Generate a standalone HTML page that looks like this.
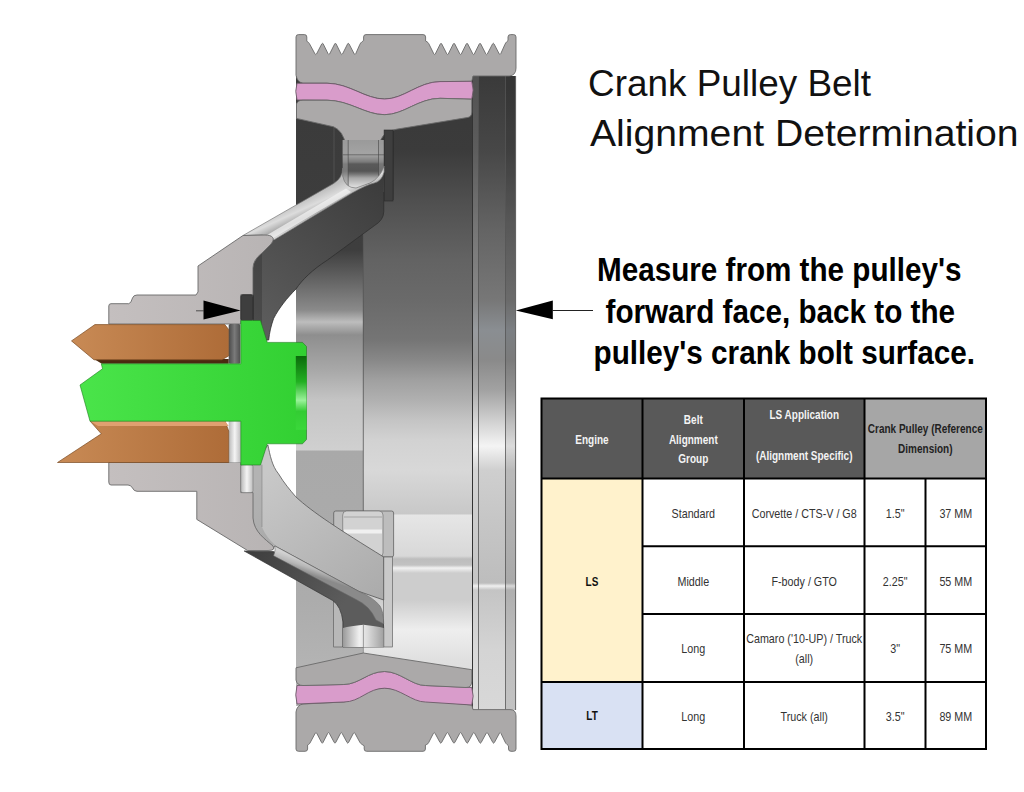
<!DOCTYPE html>
<html><head><meta charset="utf-8">
<style>
html,body{margin:0;padding:0;background:#fff;width:1024px;height:792px;overflow:hidden}
svg{display:block}
</style></head><body>
<svg width="1024" height="792" viewBox="0 0 1024 792">
<defs>
<linearGradient id="gMain" x1="0" y1="76" x2="0" y2="700" gradientUnits="userSpaceOnUse">
 <stop offset="0.0000" stop-color="#383838"/>
 <stop offset="0.1186" stop-color="#3b3b3b"/>
 <stop offset="0.1987" stop-color="#4f4f4f"/>
 <stop offset="0.2949" stop-color="#636363"/>
 <stop offset="0.3590" stop-color="#6a6a6a"/>
 <stop offset="0.4231" stop-color="#757575"/>
 <stop offset="0.4551" stop-color="#888888"/>
 <stop offset="0.4872" stop-color="#a0a0a0"/>
 <stop offset="0.5192" stop-color="#b0b0b0"/>
 <stop offset="0.5513" stop-color="#c4c4c4"/>
 <stop offset="0.5833" stop-color="#d2d2d2"/>
 <stop offset="0.6314" stop-color="#d8d8d8"/>
 <stop offset="0.7019" stop-color="#c8c8c8"/>
 <stop offset="0.7035" stop-color="#e6e6e6"/>
 <stop offset="0.7692" stop-color="#d8d8d8"/>
 <stop offset="0.7740" stop-color="#bdbdbd"/>
 <stop offset="0.7837" stop-color="#c2c2c2"/>
 <stop offset="0.7885" stop-color="#f2f2f2"/>
 <stop offset="0.7965" stop-color="#cdcdcd"/>
 <stop offset="0.8397" stop-color="#cdcdcd"/>
 <stop offset="0.8878" stop-color="#eeeeee"/>
 <stop offset="0.9359" stop-color="#e0e0e0"/>
 <stop offset="1.0000" stop-color="#d8d8d8"/>
</linearGradient>
<linearGradient id="gLeft" x1="0" y1="76" x2="0" y2="706" gradientUnits="userSpaceOnUse">
 <stop offset="0.0000" stop-color="#3a3a3a"/>
 <stop offset="0.2762" stop-color="#3e3e3e"/>
 <stop offset="0.3317" stop-color="#6a6a6a"/>
 <stop offset="0.3714" stop-color="#8a8a8a"/>
 <stop offset="0.3905" stop-color="#bdbdbd"/>
 <stop offset="0.4111" stop-color="#8e8e8e"/>
 <stop offset="0.4667" stop-color="#a8a8a8"/>
 <stop offset="0.5143" stop-color="#c4c4c4"/>
 <stop offset="0.5937" stop-color="#d0d0d0"/>
 <stop offset="0.5952" stop-color="#a9a9a9"/>
 <stop offset="0.8317" stop-color="#acacac"/>
 <stop offset="1.0000" stop-color="#b8b8b8"/>
</linearGradient>
<linearGradient id="gFl" x1="0" y1="76" x2="0" y2="710" gradientUnits="userSpaceOnUse">
 <stop offset="0.0000" stop-color="#3a3a3a"/>
 <stop offset="0.1167" stop-color="#474747"/>
 <stop offset="0.2429" stop-color="#646464"/>
 <stop offset="0.3533" stop-color="#777777"/>
 <stop offset="0.4006" stop-color="#8a8e92"/>
 <stop offset="0.4479" stop-color="#8a8a8a"/>
 <stop offset="0.4953" stop-color="#a2a2a2"/>
 <stop offset="0.5426" stop-color="#cfcfcf"/>
 <stop offset="0.5836" stop-color="#f4f4f4"/>
 <stop offset="0.6215" stop-color="#cfcfcf"/>
 <stop offset="0.7003" stop-color="#c6c6c6"/>
 <stop offset="0.7997" stop-color="#bdbdbd"/>
 <stop offset="0.8044" stop-color="#f0f0f0"/>
 <stop offset="0.8107" stop-color="#c4c4c4"/>
 <stop offset="0.9054" stop-color="#d4d4d4"/>
 <stop offset="1.0000" stop-color="#d8d8d8"/>
</linearGradient>
<linearGradient id="gCopper" x1="0" y1="0" x2="1" y2="0">
 <stop offset="0" stop-color="#c88a55"/><stop offset="1" stop-color="#ae6c38"/>
</linearGradient>
<linearGradient id="gHub" x1="108" y1="0" x2="275" y2="0" gradientUnits="userSpaceOnUse">
 <stop offset="0" stop-color="#c4bfbf"/><stop offset="1" stop-color="#b8b4b4"/>
</linearGradient>
<linearGradient id="gGreen" x1="80" y1="0" x2="306" y2="0" gradientUnits="userSpaceOnUse">
 <stop offset="0" stop-color="#4ae44a"/><stop offset="1" stop-color="#32d032"/>
</linearGradient>
<linearGradient id="gDarkFace" x1="380" y1="180" x2="270" y2="330" gradientUnits="userSpaceOnUse">
 <stop offset="0" stop-color="#3c3c3c"/><stop offset="1" stop-color="#5c5c5c"/>
</linearGradient>
<linearGradient id="gLitFace" x1="270" y1="470" x2="380" y2="620" gradientUnits="userSpaceOnUse">
 <stop offset="0" stop-color="#c8c8c8"/><stop offset="1" stop-color="#a8a8a8"/>
</linearGradient>
<linearGradient id="gStrip" x1="0" y1="0" x2="0" y2="1">
 <stop offset="0" stop-color="#c8c8c8"/><stop offset="0.5" stop-color="#efefef"/><stop offset="1" stop-color="#bdbdbd"/>
</linearGradient>
<linearGradient id="gUnder" x1="250" y1="550" x2="340" y2="610" gradientUnits="userSpaceOnUse">
 <stop offset="0" stop-color="#3e3e3e"/><stop offset="1" stop-color="#5c5c5c"/>
</linearGradient>
<linearGradient id="gGapD" x1="0" y1="0" x2="1" y2="0">
 <stop offset="0" stop-color="#4a4a4a"/><stop offset="0.5" stop-color="#7a7a7a"/><stop offset="1" stop-color="#4e4e4e"/>
</linearGradient>
<linearGradient id="gGapL" x1="0" y1="0" x2="1" y2="0">
 <stop offset="0" stop-color="#b8b8b8"/><stop offset="0.5" stop-color="#f4f4f4"/><stop offset="1" stop-color="#bcbcbc"/>
</linearGradient>
<linearGradient id="gDG" x1="0" y1="0" x2="0" y2="1">
 <stop offset="0" stop-color="#0b6a0b"/><stop offset="0.35" stop-color="#22b022"/><stop offset="0.6" stop-color="#9af29a"/><stop offset="0.75" stop-color="#33cc33"/><stop offset="1" stop-color="#3ad83a"/>
</linearGradient>
<linearGradient id="gStripU" x1="300" y1="200" x2="310" y2="222" gradientUnits="userSpaceOnUse">
 <stop offset="0" stop-color="#bdbdbd"/><stop offset="0.4" stop-color="#dcdcdc"/><stop offset="0.75" stop-color="#a8a8a8"/><stop offset="1" stop-color="#d8d8d8"/>
</linearGradient>
<linearGradient id="gNeckU" x1="0" y1="140" x2="0" y2="192" gradientUnits="userSpaceOnUse">
 <stop offset="0.0000" stop-color="#9a9a9a"/>
 <stop offset="0.2885" stop-color="#a4a4a4"/>
 <stop offset="0.4231" stop-color="#7a7a7a"/>
 <stop offset="0.4615" stop-color="#5a5a5a"/>
 <stop offset="0.5962" stop-color="#555555"/>
 <stop offset="0.6538" stop-color="#747474"/>
 <stop offset="0.7308" stop-color="#a8a8a8"/>
 <stop offset="0.8846" stop-color="#d8d8d8"/>
 <stop offset="1.0000" stop-color="#eeeeee"/>
</linearGradient>
<linearGradient id="gStripL" x1="300" y1="558" x2="296" y2="570" gradientUnits="userSpaceOnUse">
 <stop offset="0" stop-color="#d2d2d2"/><stop offset="0.5" stop-color="#b8b8b8"/><stop offset="1" stop-color="#8a8a8a"/>
</linearGradient>
<linearGradient id="gNeckL" x1="0" y1="0" x2="1" y2="0">
 <stop offset="0" stop-color="#9a9a9a"/><stop offset="0.4" stop-color="#f0f0f0"/><stop offset="0.6" stop-color="#dcdcdc"/><stop offset="1" stop-color="#a0a0a0"/>
</linearGradient>
</defs>
<rect x="296" y="76" width="176" height="630" fill="url(#gMain)"/>
<rect x="296" y="76" width="67" height="630" fill="url(#gLeft)"/>
<line x1="363.3" y1="235" x2="363.3" y2="511" stroke="#555" stroke-width="0.8"/>
<line x1="334" y1="118" x2="334" y2="200" stroke="#555" stroke-width="0.8"/>
<line x1="393" y1="128" x2="393" y2="200" stroke="#2a2a2a" stroke-width="0.8"/>
<rect x="472" y="76" width="44" height="634" fill="url(#gFl)"/>
<rect x="472" y="76" width="6" height="634" fill="#fff" opacity="0.12"/>
<rect x="505.5" y="76" width="10.5" height="634" fill="#000" opacity="0.10"/>
<line x1="472.5" y1="76" x2="472.5" y2="710" stroke="#333" stroke-width="1"/>
<line x1="478.5" y1="76" x2="478.5" y2="710" stroke="#555" stroke-width="0.8"/>
<line x1="505.5" y1="76" x2="505.5" y2="710" stroke="#555" stroke-width="0.8"/>
<line x1="515.6" y1="76" x2="515.6" y2="710" stroke="#666" stroke-width="1"/>
<path d="M296,75 L296,37 Q296,34.6 298.5,34.6 L304.5,34.6 Q306.8,34.6 306.8,37 L306.80,41.30 L307.89,41.95 Q308.80,42.50 309.31,43.43 L315.04,53.99 Q315.80,55.40 316.54,53.98 L321.76,43.92 Q322.50,42.50 323.21,43.93 L328.19,53.97 Q328.90,55.40 329.62,53.97 L334.68,43.93 Q335.40,42.50 336.11,43.93 L341.09,53.97 Q341.80,55.40 342.52,53.97 L347.58,43.93 Q348.30,42.50 349.04,43.92 L354.26,53.98 Q355.00,55.40 355.64,53.94 L359.86,44.36 Q360.50,42.90 361.77,41.92 L363.60,40.50 L363.6,37 Q363.6,34.6 366,34.6 L423,34.6 Q425.6,34.6 425.6,37 L425.60,41.00 L427.02,41.82 Q428.20,42.50 428.81,43.72 L433.89,53.97 Q434.60,55.40 435.31,53.97 L440.29,43.93 Q441.00,42.50 441.73,43.92 L446.87,53.98 Q447.60,55.40 448.31,53.97 L453.29,43.93 Q454.00,42.50 454.73,43.92 L459.87,53.98 Q460.60,55.40 461.31,53.97 L466.29,43.93 Q467.00,42.50 467.73,43.92 L472.87,53.98 Q473.60,55.40 474.31,53.97 L479.29,43.93 Q480.00,42.50 480.73,43.92 L485.87,53.98 Q486.60,55.40 487.34,53.98 L492.56,43.92 Q493.30,42.50 494.04,43.92 L499.26,53.98 Q500.00,55.40 500.65,53.94 L504.97,44.31 Q505.60,42.90 506.69,41.81 L508.00,40.50 L508,37 Q508,34.6 510.5,34.6 L513.5,34.6 Q516,34.6 516,37 L516,68 Q516,75.5 509,76 L473,76 L471.8,81.3 L440,81.6 C418,82 404,99 384.6,99 C365,99 350,83.5 327,83.2 L303,83.2 Q297,82 296,75 Z" fill="#aba9a9" stroke="#6a6a6a" stroke-width="0.9"/>
<path d="M297,83.2 L327,83.2 C350,83.5 365,99 384.6,99 C404,99 418,82 440,81.6 L471.8,81.3 Q474.5,90 471.8,99.2 L440,98.3 C418,98.5 404,114.7 384.6,114.7 C365,114.7 350,100.4 327,100.2 L297,100 Q294.5,91 297,83.2 Z" fill="#d99ccb" stroke="#6a5a66" stroke-width="0.9"/>
<path d="M296.5,104 Q297.5,100.2 303,100.2 L327,100.2 C350,100.4 365,114.7 384.6,114.7 C404,114.7 418,98.5 440,98.3 L471.8,99.2 Q471.8,100 471.8,105 L471.8,112 Q471.8,117.2 467,117.6 L396,129.3 Q381,132 379.5,145 L379.5,155 L345.5,155 L345.5,145 Q343.5,131 333.6,126.8 L296.5,118.4 Z" fill="#aba9a9" stroke="#6a6a6a" stroke-width="0.9"/>
<rect x="342.7" y="140" width="41.4" height="52" fill="url(#gNeckU)"/>
<rect x="342.7" y="140" width="5.5" height="48" fill="#9a9a9a" opacity="0.55"/>
<rect x="378.5" y="140" width="5.6" height="40" fill="#9a9a9a" opacity="0.45"/>
<line x1="348.2" y1="140" x2="348.2" y2="188" stroke="#444" stroke-width="0.6"/>
<line x1="378.5" y1="140" x2="378.5" y2="180" stroke="#444" stroke-width="0.6"/>
<line x1="342.7" y1="154.8" x2="384" y2="154.8" stroke="#444" stroke-width="0.6"/>
<rect x="384.1" y="130" width="8.9" height="71" fill="#3e3e3e" stroke="#2a2a2a" stroke-width="0.6"/>
<path d="M253,262 Q256,252 262,250 L274.4,239.7 L352.5,192.8 Q366,184 374.4,181.9 Q380,178 382.2,172.5 L383.75,172.5 L383.75,211.6 Q383.75,220 374.4,225.6 L327.5,260 C312,270 302,280 296,289 C287,298 279,308 273.6,318.5 C271,326 269.5,332 268.7,340 L253,340 Z" fill="url(#gDarkFace)" stroke="#2e2e2e" stroke-width="0.8"/>
<path d="M253,262 Q256,252 262,250 L262,330 L253,330 Z" fill="#2a2a2a" opacity="0.35"/>
<path d="M243,235.5 L333.75,183.4 Q342.7,178 342.7,168 L342.7,176 Q345,188 356,188 L370,183 Q380,178 384.1,166 L384.1,172 Q382,181 374.4,183 Q366,185 352.5,192.8 L274.4,239.7 Q268,236 262,235 Z" fill="url(#gStripU)" stroke="#777" stroke-width="0.7"/>
<path d="M262,238 L346,188.5 L351,192 L270,240 Z" fill="#f2f2f2" opacity="0.75"/>
<rect x="333.7" y="511" width="59.9" height="46" rx="2" fill="#bdbdbd" stroke="#555" stroke-width="0.7"/>
<rect x="342.7" y="511" width="40.3" height="46" rx="4" fill="#d2d2d2" stroke="#666" stroke-width="0.6"/>
<rect x="344" y="529.5" width="38" height="4" fill="#f0f0f0"/>
<line x1="344" y1="517" x2="382" y2="517" stroke="#888" stroke-width="0.6"/>
<rect x="333.7" y="600" width="9.3" height="47" fill="#b8b8b8" stroke="#555" stroke-width="0.6"/>
<rect x="383.7" y="557" width="8.9" height="90" fill="#c9c9c9" stroke="#555" stroke-width="0.6"/>
<path d="M253,464.7 L267.9,445 C270,455 272,466 278.5,473.8 C284,483 290,490 295.8,496.8 C312,512 340,530 383.7,557 L383.7,600 L358.9,591.4 L274.8,545.9 L272,550 L248,532 L248,464.7 Z" fill="url(#gLitFace)" stroke="#555" stroke-width="0.8"/>
<path d="M253,464.7 L262,464.7 L262,527 Q266,537 275,545 L271,546 C262,540 254,532 253,518 Z" fill="#000" opacity="0.10"/>
<line x1="262" y1="464.7" x2="262" y2="527" stroke="#777" stroke-width="0.5"/>
<path d="M244.2,551 L273.6,551.6 L355.5,597 Q372,603 378,610 Q383.7,615 383.7,628 L383.7,647 L343,647 L343,622 Q341,606 332.7,600.5 Z" fill="url(#gUnder)" stroke="#333" stroke-width="0.7"/>
<path d="M274.8,545.9 L358.9,591.4 Q374,598 380,606 Q383.7,612 383.7,624 L376,620 Q370,606 356,599.5 L273.6,555.8 Q276,549 274.8,545.9 Z" fill="url(#gStripL)" stroke="#666" stroke-width="0.6"/>
<path d="M343,628 Q350,626 363.4,624.8 Q376,626 383.7,628 L383.7,647 L343,647 Z" fill="url(#gNeckL)"/>
<line x1="363.4" y1="624.8" x2="363.4" y2="653" stroke="#666" stroke-width="0.6"/>
<path d="M108.8,324 L108.8,306 Q108.8,303.7 111,303.7 L128.7,303.7 Q131,303.7 132.5,298 Q133.5,295 137,295 L196,295 L198,292 L198,266 L243,235.5 L265,235 C272,235 276,238 271,244 L262,253 Q253,260 253,268 L253,294.7 L240.8,294.7 L240.8,324 Z" fill="url(#gHub)" stroke="#6a6a6a" stroke-width="0.9"/>
<rect x="240.8" y="294.7" width="12.2" height="26" rx="2" fill="#3e3e3e" stroke="#222" stroke-width="0.6"/>
<path d="M108.8,462.5 L108.8,482 Q108.8,485 111,485 L128,485 Q131,485 132.5,488 Q134,491.3 137,491.3 L196.8,491.3 L196.8,519.4 L247.6,550.5 L268,550.5 Q276,550.5 273,546 C265,539 254,532 253,518 L253,492.6 L240.8,492.6 L240.8,462.5 Z" fill="url(#gHub)" stroke="#6a6a6a" stroke-width="0.9"/>
<rect x="240.8" y="464.7" width="12.2" height="27.9" rx="2" fill="url(#gGapL)" stroke="#777" stroke-width="0.6"/>
<rect x="228.7" y="324" width="11.7" height="39.7" rx="1.5" fill="url(#gGapD)"/>
<rect x="228.7" y="421" width="12.1" height="41.5" fill="url(#gGapL)"/>
<path d="M94,359 L228.7,359 L228.7,363.8 L101.8,363.8 Z" fill="#4a2a10"/>
<path d="M94.9,324.6 L224.8,324.6 L228.7,329.5 L228.7,355.9 L221.9,359.8 L94,359.8 L71.5,340.9 Z" fill="url(#gCopper)" stroke="#7a4a22" stroke-width="0.7"/>
<path d="M90,421 L225,421 L228.7,431 L228.7,462.5 L57.5,462.5 L101.3,433.8 Z" fill="url(#gCopper)" stroke="#7a4a22" stroke-width="0.7"/>
<path d="M90,421 L225,421 L228.7,426 L98,426 Z" fill="#e0a070"/>
<path d="M101.3,363.8 L240.8,363.8 L240.8,320.5 L260.5,320.5 L267.3,342.4 L302.5,342.4 L306.5,346.5 L306.5,439.5 L302.5,443.8 L267.3,443.8 L260.5,465 L240.8,465 L240.8,421.2 L90,421.2 L80,385 L102.5,368.8 Z" fill="url(#gGreen)" stroke="#1f7a1f" stroke-width="0.6"/>
<rect x="295.8" y="356" width="10.7" height="73.8" fill="url(#gDG)"/>
<path d="M296,712 L296,749 Q296,751.3 298.5,751.3 L305,751.3 Q307.6,751.3 307.6,749 L307.60,745.00 L308.64,744.40 Q309.50,743.90 309.97,743.02 L315.24,733.21 Q316.00,731.80 316.74,733.22 L321.56,742.48 Q322.30,743.90 323.03,742.48 L327.77,733.22 Q328.50,731.80 329.26,733.21 L334.24,742.49 Q335.00,743.90 335.74,742.48 L340.56,733.22 Q341.30,731.80 342.06,733.21 L347.04,742.49 Q347.80,743.90 348.55,742.49 L353.45,733.21 Q354.20,731.80 354.96,733.21 L359.74,742.09 Q360.50,743.50 361.86,744.34 L364.20,745.80 L364.2,749 Q364.2,751.3 366.6,751.3 L423,751.3 Q425.4,751.3 425.4,749 L425.40,745.00 L426.82,744.40 Q428.00,743.90 428.59,742.76 L433.47,733.22 Q434.20,731.80 434.97,733.20 L440.03,742.50 Q440.80,743.90 441.57,742.50 L446.63,733.20 Q447.40,731.80 448.17,733.20 L453.23,742.50 Q454.00,743.90 454.77,742.50 L459.83,733.20 Q460.60,731.80 461.37,733.20 L466.43,742.50 Q467.20,743.90 467.97,742.50 L473.03,733.20 Q473.80,731.80 474.57,733.20 L479.63,742.50 Q480.40,743.90 481.17,742.50 L486.23,733.20 Q487.00,731.80 487.77,733.20 L492.83,742.50 Q493.60,743.90 494.37,742.50 L499.43,733.20 Q500.20,731.80 500.89,733.24 L505.11,742.06 Q505.80,743.50 507.02,744.54 L508.50,745.80 L508.5,749 Q508.5,751.3 511,751.3 L513.6,751.3 Q516,751.3 516,749 L516,716 Q516,709.6 510,709.6 L473,709.6 L471.8,705 L440,702 C418,702 404,688.2 384.6,688.2 C365,688.2 350,702 343.8,702 L303,704 Q297,705 296,712 Z" fill="#aba9a9" stroke="#6a6a6a" stroke-width="0.9"/>
<path d="M297,685.5 L343.8,684.5 C360,684 368,671.5 384.6,671.5 C400,671.5 412,685.5 425.4,685.5 L471.8,687.5 Q474.5,696 471.8,705 L425.4,702 C412,702 400,688.2 384.6,688.2 C368,688.2 360,702 343.8,702 L297,704 Q294.5,695 297,685.5 Z" fill="#d99ccb" stroke="#6a5a66" stroke-width="0.9"/>
<path d="M296,667.8 L363.3,653 L471.8,669.7 L471.8,681 Q471.8,687.5 466,687.5 L425.4,685.5 C412,685.5 400,671.5 384.6,671.5 C368,671.5 360,684 343.8,684.5 L303,685.5 Q297,685.5 296,680 Z" fill="#aba9a9" stroke="#6a6a6a" stroke-width="0.9"/>
<path d="M240.6,310.5 L203.5,300.5 L203.5,319.5 Z" fill="#000"/>
<line x1="196" y1="310.8" x2="204" y2="310.8" stroke="#333" stroke-width="0.8"/>
<path d="M515.8,310.5 L552.8,300.5 L552.8,319.3 Z" fill="#000"/>
<line x1="552" y1="310.5" x2="593" y2="310.5" stroke="#222" stroke-width="1"/>
<text x="588" y="95.5" font-family='"Liberation Sans", sans-serif' font-size="37" textLength="283" lengthAdjust="spacingAndGlyphs" fill="#111">Crank Pulley Belt</text>
<text x="590" y="146.2" font-family='"Liberation Sans", sans-serif' font-size="37" textLength="428.5" lengthAdjust="spacingAndGlyphs" fill="#111">Alignment Determination</text>
<text x="597" y="281.3" font-family='"Liberation Sans", sans-serif' font-size="33" font-weight="bold" textLength="364.5" lengthAdjust="spacingAndGlyphs" fill="#000">Measure from the pulley's</text>
<text x="605.5" y="322.5" font-family='"Liberation Sans", sans-serif' font-size="33" font-weight="bold" textLength="349.5" lengthAdjust="spacingAndGlyphs" fill="#000">forward face, back to the</text>
<text x="593.5" y="363.8" font-family='"Liberation Sans", sans-serif' font-size="33" font-weight="bold" textLength="381.5" lengthAdjust="spacingAndGlyphs" fill="#000">pulley's crank bolt surface.</text>
<rect x="541.5" y="398.5" width="323" height="80" fill="#595959"/>
<rect x="864.5" y="398.5" width="121.5" height="80" fill="#a6a6a6"/>
<rect x="541.5" y="478.5" width="101" height="203.5" fill="#fff2cc"/>
<rect x="541.5" y="682" width="101" height="67" fill="#d9e1f3"/>
<g stroke="#000" stroke-width="2" fill="none"><rect x="541.5" y="398.5" width="444.5" height="350.5"/><line x1="541.5" y1="478.5" x2="986" y2="478.5"/><line x1="642.5" y1="546.3" x2="986" y2="546.3"/><line x1="642.5" y1="614" x2="986" y2="614"/><line x1="541.5" y1="682" x2="986" y2="682"/><line x1="642.5" y1="398.5" x2="642.5" y2="749"/><line x1="744" y1="398.5" x2="744" y2="749"/><line x1="864.5" y1="398.5" x2="864.5" y2="749"/><line x1="925.5" y1="478.5" x2="925.5" y2="749"/></g>
<text transform="translate(592,443.5) scale(0.82,1)" x="0" y="0" text-anchor="middle" font-family='"Liberation Sans", sans-serif' font-size="12.2" font-weight="bold" fill="#f4f4f4">Engine</text>
<text transform="translate(693.3,423.6) scale(0.82,1)" x="0" y="0" text-anchor="middle" font-family='"Liberation Sans", sans-serif' font-size="12.2" font-weight="bold" fill="#f4f4f4">Belt</text>
<text transform="translate(693.3,443.8) scale(0.82,1)" x="0" y="0" text-anchor="middle" font-family='"Liberation Sans", sans-serif' font-size="12.2" font-weight="bold" fill="#f4f4f4">Alignment</text>
<text transform="translate(693.3,463) scale(0.82,1)" x="0" y="0" text-anchor="middle" font-family='"Liberation Sans", sans-serif' font-size="12.2" font-weight="bold" fill="#f4f4f4">Group</text>
<text transform="translate(804.2,419) scale(0.82,1)" x="0" y="0" text-anchor="middle" font-family='"Liberation Sans", sans-serif' font-size="12.2" font-weight="bold" fill="#f4f4f4">LS Application</text>
<text transform="translate(804.2,459.5) scale(0.82,1)" x="0" y="0" text-anchor="middle" font-family='"Liberation Sans", sans-serif' font-size="12.2" font-weight="bold" fill="#f4f4f4">(Alignment Specific)</text>
<text transform="translate(925.3,433) scale(0.82,1)" x="0" y="0" text-anchor="middle" font-family='"Liberation Sans", sans-serif' font-size="12.2" font-weight="bold" fill="#222">Crank Pulley (Reference</text>
<text transform="translate(925.3,452.5) scale(0.82,1)" x="0" y="0" text-anchor="middle" font-family='"Liberation Sans", sans-serif' font-size="12.2" font-weight="bold" fill="#222">Dimension)</text>
<text transform="translate(592,585.5) scale(0.82,1)" x="0" y="0" text-anchor="middle" font-family='"Liberation Sans", sans-serif' font-size="12.2" font-weight="bold" fill="#111">LS</text>
<text transform="translate(592,720) scale(0.82,1)" x="0" y="0" text-anchor="middle" font-family='"Liberation Sans", sans-serif' font-size="12.2" font-weight="bold" fill="#111">LT</text>
<text transform="translate(693.3,518) scale(0.86,1)" x="0" y="0" text-anchor="middle" font-family='"Liberation Sans", sans-serif' font-size="12.5" fill="#333">Standard</text>
<text transform="translate(693.3,585.7) scale(0.86,1)" x="0" y="0" text-anchor="middle" font-family='"Liberation Sans", sans-serif' font-size="12.5" fill="#333">Middle</text>
<text transform="translate(693.3,653) scale(0.86,1)" x="0" y="0" text-anchor="middle" font-family='"Liberation Sans", sans-serif' font-size="12.5" fill="#333">Long</text>
<text transform="translate(693.3,720.5) scale(0.86,1)" x="0" y="0" text-anchor="middle" font-family='"Liberation Sans", sans-serif' font-size="12.5" fill="#333">Long</text>
<text transform="translate(804.2,518) scale(0.86,1)" x="0" y="0" text-anchor="middle" font-family='"Liberation Sans", sans-serif' font-size="12.5" fill="#333">Corvette / CTS-V / G8</text>
<text transform="translate(804.2,585.7) scale(0.86,1)" x="0" y="0" text-anchor="middle" font-family='"Liberation Sans", sans-serif' font-size="12.5" fill="#333">F-body / GTO</text>
<text transform="translate(804.2,643) scale(0.86,1)" x="0" y="0" text-anchor="middle" font-family='"Liberation Sans", sans-serif' font-size="12.5" fill="#333">Camaro ('10-UP) / Truck</text>
<text transform="translate(804.2,662.5) scale(0.86,1)" x="0" y="0" text-anchor="middle" font-family='"Liberation Sans", sans-serif' font-size="12.5" fill="#333">(all)</text>
<text transform="translate(804.2,720.5) scale(0.86,1)" x="0" y="0" text-anchor="middle" font-family='"Liberation Sans", sans-serif' font-size="12.5" fill="#333">Truck (all)</text>
<text transform="translate(895.2,518) scale(0.86,1)" x="0" y="0" text-anchor="middle" font-family='"Liberation Sans", sans-serif' font-size="12.5" fill="#333">1.5&quot;</text>
<text transform="translate(895.2,585.7) scale(0.86,1)" x="0" y="0" text-anchor="middle" font-family='"Liberation Sans", sans-serif' font-size="12.5" fill="#333">2.25&quot;</text>
<text transform="translate(895.2,653) scale(0.86,1)" x="0" y="0" text-anchor="middle" font-family='"Liberation Sans", sans-serif' font-size="12.5" fill="#333">3&quot;</text>
<text transform="translate(895.2,720.5) scale(0.86,1)" x="0" y="0" text-anchor="middle" font-family='"Liberation Sans", sans-serif' font-size="12.5" fill="#333">3.5&quot;</text>
<text transform="translate(955.8,518) scale(0.86,1)" x="0" y="0" text-anchor="middle" font-family='"Liberation Sans", sans-serif' font-size="12.5" fill="#333">37 MM</text>
<text transform="translate(955.8,585.7) scale(0.86,1)" x="0" y="0" text-anchor="middle" font-family='"Liberation Sans", sans-serif' font-size="12.5" fill="#333">55 MM</text>
<text transform="translate(955.8,653) scale(0.86,1)" x="0" y="0" text-anchor="middle" font-family='"Liberation Sans", sans-serif' font-size="12.5" fill="#333">75 MM</text>
<text transform="translate(955.8,720.5) scale(0.86,1)" x="0" y="0" text-anchor="middle" font-family='"Liberation Sans", sans-serif' font-size="12.5" fill="#333">89 MM</text>
</svg>
</body></html>
